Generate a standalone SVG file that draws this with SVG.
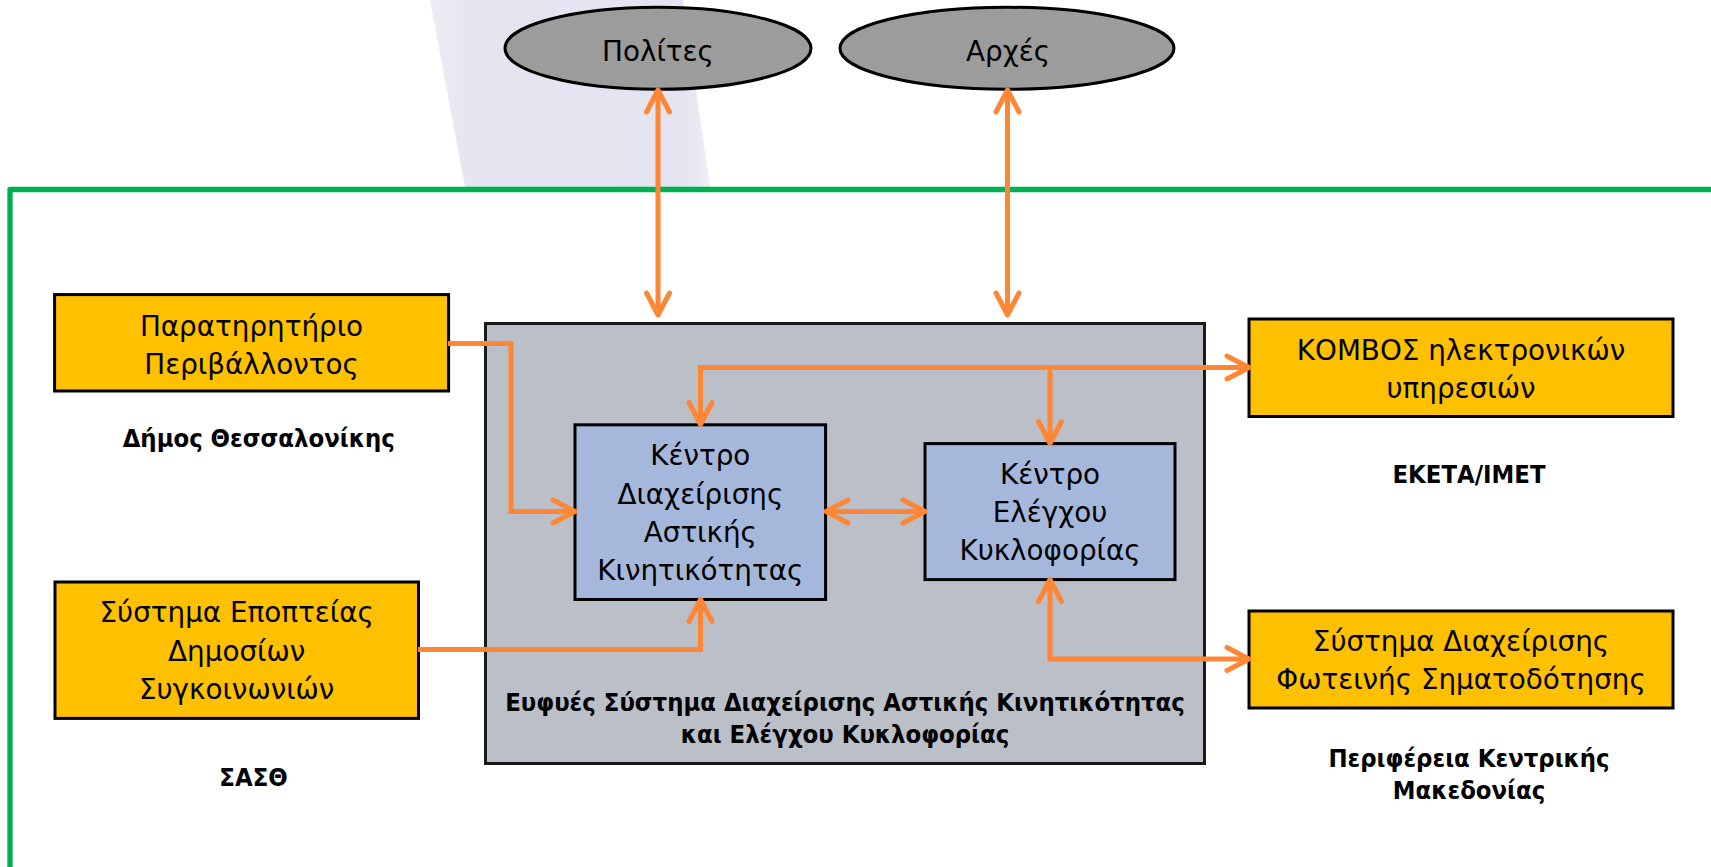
<svg xmlns="http://www.w3.org/2000/svg" width="1711" height="867" viewBox="0 0 1711 867">
<style>
.t{font-family:"DejaVu Sans","Noto Sans",sans-serif;font-size:27.8px;fill:#000;text-anchor:middle}
.b{font-family:"DejaVu Sans Condensed","DejaVu Sans","Noto Sans",sans-serif;font-stretch:condensed;font-weight:bold;font-size:25.4px;fill:#000;text-anchor:middle}
.y{fill:#FFC000;stroke:#000;stroke-width:3}
.bl{fill:#A5B8DB;stroke:#000;stroke-width:3}
.c{fill:none;stroke:#FF8635;stroke-width:5;marker-end:url(#ah)}
.s{marker-start:url(#ah)}
</style>
<defs>
<marker id="ah" markerUnits="userSpaceOnUse" markerWidth="40" markerHeight="40" viewBox="-30 -20 40 40" refX="0" refY="0" orient="auto-start-reverse" overflow="visible">
<path d="M-19,-11.5 L3,0 L-19,11.5" fill="none" stroke="#FF8635" stroke-width="5" stroke-linecap="round" stroke-linejoin="round"/>
</marker>
<linearGradient id="wm" x1="0" y1="0" x2="1" y2="0">
<stop offset="0" stop-color="#EDEDF5"/>
<stop offset="0.15" stop-color="#E5E5F1"/>
<stop offset="0.9" stop-color="#E4E4F0"/>
<stop offset="1" stop-color="#EEEEF5"/>
</linearGradient>
</defs>
<rect width="1711" height="867" fill="#FFFFFF"/>
<polygon points="430,0 683,0 710,187 465,187" fill="url(#wm)"/>
<path d="M10,870 V189.5 H1715" fill="none" stroke="#00B050" stroke-width="5.3" stroke-linejoin="round"/>

<g id="grey-system">
<rect x="485.5" y="323.5" width="719" height="440" fill="#BBBFC7" stroke="#1A1A1A" stroke-width="3"/>
<text class="b" x="845" y="710.5">Ευφυές Σύστημα Διαχείρισης Αστικής Κινητικότητας</text>
<text class="b" x="845" y="743">και Ελέγχου Κυκλοφορίας</text>
</g>

<g id="polites">
<ellipse cx="658" cy="48.3" rx="153" ry="41" fill="#9C9C9C" stroke="#000" stroke-width="3"/>
<text class="t" x="658" y="61">Πολίτες</text>
</g>
<g id="arxes">
<ellipse cx="1007" cy="48.3" rx="167" ry="41" fill="#9C9C9C" stroke="#000" stroke-width="3"/>
<text class="t" x="1008" y="61">Αρχές</text>
</g>

<g id="paratiritirio">
<rect class="y" x="54.6" y="294.6" width="394" height="96.4"/>
<text class="t" x="251.5" y="336">Παρατηρητήριο</text>
<text class="t" x="251.5" y="374">Περιβάλλοντος</text>
</g>
<text class="b" x="258.7" y="446.5">Δήμος Θεσσαλονίκης</text>

<g id="systima-epopteias">
<rect class="y" x="55" y="582" width="363.5" height="136.4"/>
<text class="t" x="236.7" y="622">Σύστημα Εποπτείας</text>
<text class="t" x="236.7" y="660.6">Δημοσίων</text>
<text class="t" x="236.7" y="699">Συγκοινωνιών</text>
</g>
<text class="b" x="253.5" y="786.4">ΣΑΣΘ</text>

<g id="kentro-diaxeirisis">
<rect class="bl" x="575" y="424.8" width="250.6" height="174.7"/>
<text class="t" x="700.3" y="465">Κέντρο</text>
<text class="t" x="700.3" y="503.5">Διαχείρισης</text>
<text class="t" x="700.3" y="542">Αστικής</text>
<text class="t" x="700.3" y="580.3">Κινητικότητας</text>
</g>

<g id="kentro-elegxou">
<rect class="bl" x="925" y="443.6" width="250" height="136"/>
<text class="t" x="1050" y="484.4">Κέντρο</text>
<text class="t" x="1050" y="522.4">Ελέγχου</text>
<text class="t" x="1050" y="560.4">Κυκλοφορίας</text>
</g>

<g id="kombos">
<rect class="y" x="1249" y="319" width="424" height="97.5"/>
<text class="t" x="1461" y="359.7">ΚΟΜΒΟΣ ηλεκτρονικών</text>
<text class="t" x="1461" y="397.6">υπηρεσιών</text>
</g>
<text class="b" x="1469" y="482.6">ΕΚΕΤΑ/ΙΜΕΤ</text>

<g id="systima-fotinis">
<rect class="y" x="1249" y="611" width="424" height="97"/>
<text class="t" x="1461" y="650.8">Σύστημα Διαχείρισης</text>
<text class="t" x="1461" y="688.8">Φωτεινής Σηματοδότησης</text>
</g>
<text class="b" x="1469" y="766.5">Περιφέρεια Κεντρικής</text>
<text class="b" x="1469" y="799">Μακεδονίας</text>

<g id="connectors">
<path class="c s" d="M658,93 V312"/>
<path class="c s" d="M1007.5,93 V312"/>
<path class="c" d="M448,343.5 H511 V511.5 H572"/>
<path class="c" d="M418,649.5 H700.5 V602.5"/>
<path class="c s" d="M700.5,421.5 V367.5 H1246"/>
<path class="c" d="M1050,367.5 V440.5"/>
<path class="c s" d="M829,511.5 H922"/>
<path class="c s" d="M1050,582.5 V659 H1246"/>
</g>
</svg>
